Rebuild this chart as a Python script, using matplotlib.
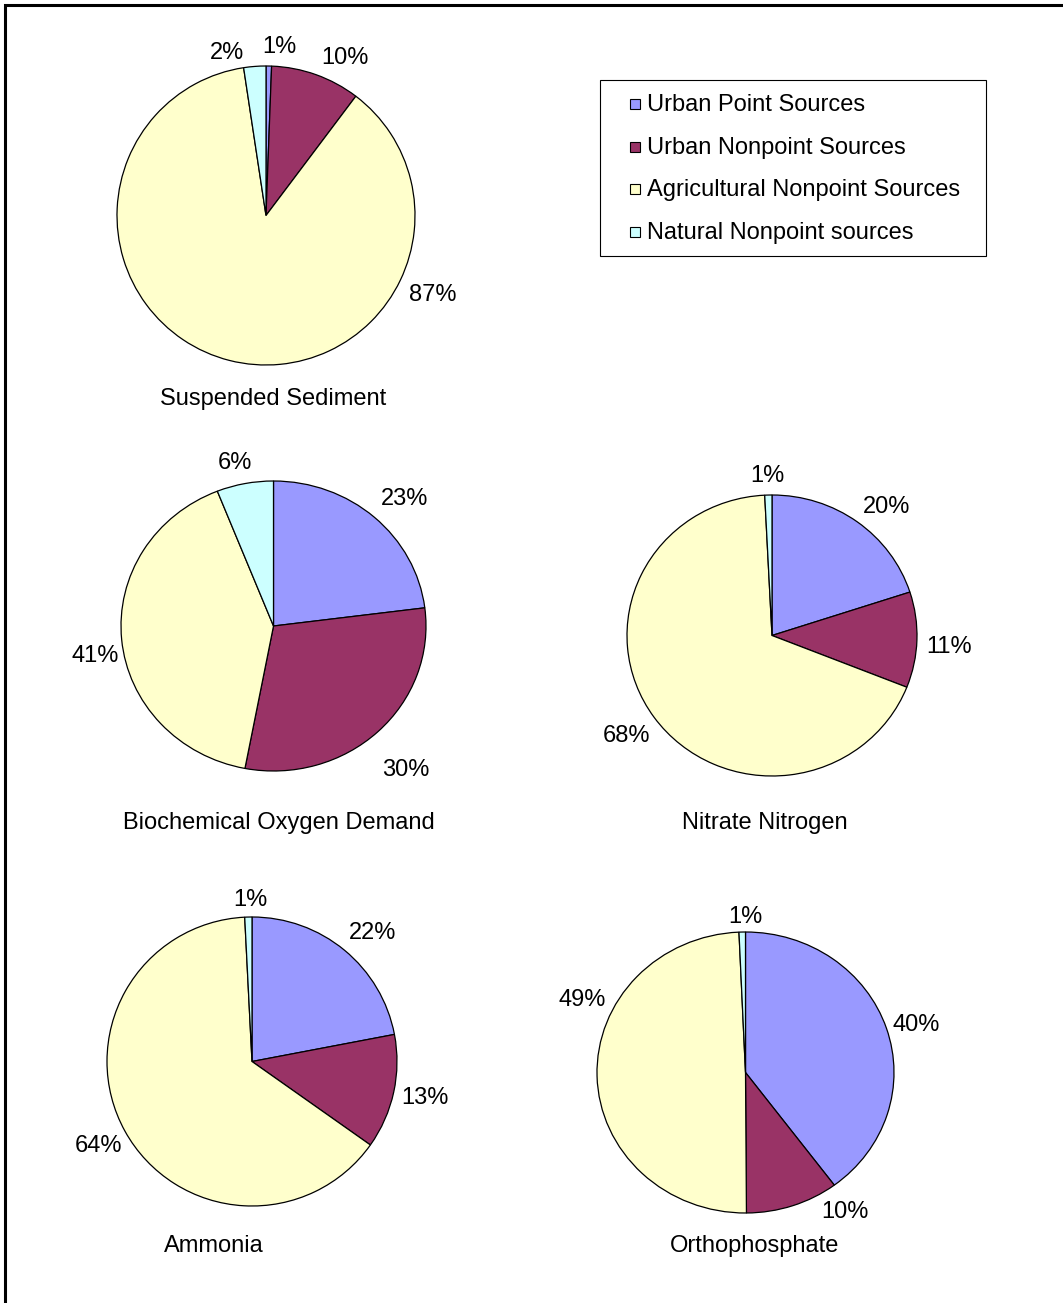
import matplotlib
matplotlib.use("Agg")
import matplotlib.pyplot as plt
from matplotlib.patches import Rectangle
from matplotlib.transforms import offset_copy

plt.rcParams['font.family'] = ['Liberation Sans', 'DejaVu Sans']

# ── data (percent of load by source) ─────────────────────────────────────────
sources = ['Urban Point Sources', 'Urban Nonpoint Sources',
           'Agricultural Nonpoint Sources', 'Natural Nonpoint sources']
constituents = ['Suspended Sediment', 'Biochemical Oxygen Demand',
                'Nitrate Nitrogen', 'Ammonia', 'Orthophosphate']

sediment = [0.6, 9.7, 87.3, 2.4]
bod = [23.0, 30.0, 41.0, 6.0]
nitrate = [20.0, 11.0, 68.2, 0.8]
ammonia = [22.0, 12.8, 64.4, 0.8]
orthophosphate = [39.8, 10.1, 49.4, 0.7]

series = [sediment, bod, nitrate, ammonia, orthophosphate]

colors = ['#9999FF', '#993366', '#FFFFCC', '#CCFFFF']

# ── layout (pixels of a 1063x1303 canvas) ────────────────────────────────────
W, H = 1063, 1303
# pie box: left, top, right, bottom
pie_boxes = [(117, 66, 415, 365),
             (121, 481, 426, 771),
             (627, 495, 917, 776),
             (107, 917, 397, 1206),
             (597, 932, 894, 1213)]
title_pos = [(273, 399), (279, 823), (765, 823), (214, 1246), (755, 1246)]
# label offsets in pie-radius units, one per slice
label_pos = [
    [(0.09, 1.14), (0.53, 1.07), (1.12, -0.52), (-0.26, 1.10)],
    [(0.86, 0.89), (0.87, -0.98), (-1.17, -0.19), (-0.25, 1.14)],
    [(0.79, 0.93), (1.22, -0.07), (-1.00, -0.70), (-0.03, 1.15)],
    [(0.83, 0.90), (1.19, -0.24), (-1.06, -0.57), (-0.01, 1.13)],
    [(1.15, 0.35), (0.67, -0.98), (-1.10, 0.53), (0.00, 1.12)],
]
FS = 17

fig = plt.figure(figsize=(W / 100, H / 100), dpi=100)
fig.patch.set_facecolor('white')

for vals, box, tpos, lpos, name in zip(series, pie_boxes, title_pos,
                                       label_pos, constituents):
    l, t, r, b = box
    ax = fig.add_axes([l / W, 1 - b / H, (r - l) / W, (b - t) / H])
    total = sum(vals)
    ax.pie(vals, colors=colors, startangle=90, counterclock=False,
           radius=1.0,
           wedgeprops=dict(edgecolor='black', linewidth=0.9))
    ax.set_aspect('auto')
    ax.set_xlim(-1, 1)
    ax.set_ylim(-1, 1)
    ax.axis('off')
    lbl_tr = offset_copy(ax.transData, fig=fig, x=0, y=-2, units='dots')
    for v, (lx, ly) in zip(vals, lpos):
        ax.text(lx, ly, f'{100 * v / total:.0f}%', fontsize=FS,
                ha='center', va='center', clip_on=False, transform=lbl_tr)
    fig.text(tpos[0] / W, 1 - tpos[1] / H, name, fontsize=FS,
             ha='center', va='center')

# ── legend box, drawn by hand to match the original spacing ─────────────────
leg_left, leg_top, leg_right, leg_bottom = 600, 80, 986, 256
row_y = [104, 147, 189, 232]
fig.patches.append(Rectangle((leg_left / W, 1 - leg_bottom / H),
                             (leg_right - leg_left) / W,
                             (leg_bottom - leg_top) / H,
                             transform=fig.transFigure, facecolor='white',
                             edgecolor='black', linewidth=0.8))
for c, lab, y in zip(colors, sources, row_y):
    fig.patches.append(Rectangle((630 / W, 1 - (y + 5) / H), 10 / W, 10 / H,
                                 transform=fig.transFigure, facecolor=c,
                                 edgecolor='black', linewidth=0.8))
    fig.text(647 / W, 1 - (y + 1) / H, lab, fontsize=FS,
             ha='left', va='center')

# outer frame (runs off the right and bottom edges)
fig.patches.append(Rectangle((5 / W, -0.05), 1.2, 1 - 5 / H + 0.05,
                             transform=fig.transFigure, fill=False,
                             edgecolor='black', linewidth=2.2))

fig.savefig('out.png', dpi=100, facecolor='white')
